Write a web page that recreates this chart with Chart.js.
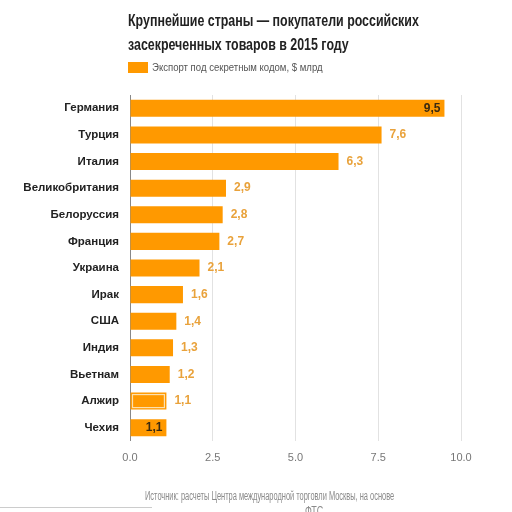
<!DOCTYPE html>
<html>
<head>
<meta charset="utf-8">
<script src="https://cdn.jsdelivr.net/npm/chart.js@4"></script>
<style>
  body { margin: 0; background: #fff; }
  #wrap { position: relative; width: 512px; height: 512px; overflow: hidden; font-family: "Liberation Sans", Arial, sans-serif; }
  #box { position: absolute; left: 0; top: 0; width: 512px; height: 512px; }
  .narrow { position: absolute; white-space: nowrap; transform-origin: 0 0; }
  .title { left: 128px; top: 9px; font-size: 17px; font-weight: bold; color: #222; line-height: 24px; transform: scaleX(0.73); }
  .swatch { position: absolute; left: 128px; top: 62px; width: 20px; height: 11px; background: #ff9900; }
  .legend { left: 152px; top: 60px; font-size: 11px; color: #555; line-height: 14px; transform: scaleX(0.87); }
  .source { left: 145px; top: 489px; font-size: 12px; color: #8a8a8a; line-height: 15px; transform: scaleX(0.62); }
  .source2 { left: 305px; top: 504px; font-size: 12px; color: #8a8a8a; line-height: 15px; transform: scaleX(0.75); }
  .line { position: absolute; left: 0; top: 507px; width: 152px; border-top: 1px solid #ccc; }
</style>
</head>
<body>
<div id="wrap">
  <div id="box"><canvas id="c"></canvas></div>
  <div class="narrow title">Крупнейшие страны — покупатели российских<br>засекреченных товаров в 2015 году</div>
  <div class="swatch"></div>
  <div class="narrow legend">Экспорт под секретным кодом, $ млрд</div>
  <div class="narrow source">Источник: расчеты Центра международной торговли Москвы, на основе</div>
  <div class="narrow source2">ФТС</div>
  <div class="line"></div>
</div>
<script>
const countries = ['Германия', 'Турция', 'Италия', 'Великобритания', 'Белоруссия', 'Франция',
  'Украина', 'Ирак', 'США', 'Индия', 'Вьетнам', 'Алжир', 'Чехия'];
const exportValues = [9.5, 7.6, 6.3, 2.9, 2.8, 2.7, 2.1, 1.6, 1.4, 1.3, 1.2, 1.1, 1.1];
const xTicks = [0, 2.5, 5, 7.5, 10];

const font = '"Liberation Sans", Arial, sans-serif';
const highlighted = 11; // Алжир drawn with a pale inner outline
const insideLabels = [0, 12];

const valueLabels = {
  id: 'valueLabels',
  afterDatasetsDraw(chart) {
    const ctx = chart.ctx;
    const meta = chart.getDatasetMeta(0);
    ctx.save();
    meta.data.forEach((bar, i) => {
      if (i === highlighted) {
        const h = bar.height;
        ctx.strokeStyle = '#fbe0b0';
        ctx.lineWidth = 1.2;
        ctx.strokeRect(bar.base + 2, bar.y - h / 2 + 2, bar.x - bar.base - 4, h - 4);
      }
      const txt = exportValues[i].toFixed(1).replace('.', ',');
      ctx.font = 'bold 12px ' + font;
      ctx.textBaseline = 'middle';
      if (insideLabels.includes(i)) {
        ctx.fillStyle = '#3a2a10';
        ctx.textAlign = 'right';
        ctx.fillText(txt, bar.x - 4, bar.y);
      } else {
        ctx.fillStyle = '#e9a23b';
        ctx.textAlign = 'left';
        ctx.fillText(txt, bar.x + 8, bar.y);
      }
    });
    ctx.restore();
  }
};

new Chart(document.getElementById('c'), {
  type: 'bar',
  data: {
    labels: countries,
    datasets: [{
      label: 'Экспорт под секретным кодом, $ млрд',
      data: exportValues,
      backgroundColor: '#ff9900',
      borderWidth: 0,
      barPercentage: 0.64,
      categoryPercentage: 1
    }]
  },
  options: {
    indexAxis: 'y',
    responsive: true,
    maintainAspectRatio: false,
    animation: false,
    layout: { padding: { top: 95, right: 51, bottom: 46, left: 0 } },
    plugins: { legend: { display: false }, tooltip: { enabled: false } },
    scales: {
      x: {
        min: 0,
        max: 10,
        afterFit: (s) => { s.height = 25; },
        afterBuildTicks: (s) => { s.ticks = xTicks.map(v => ({ value: v })); },
        ticks: {
          color: '#777',
          padding: 10,
          font: { size: 11, family: font },
          callback: (v) => Number(v).toFixed(1)
        },
        grid: { color: (c) => c.tick && c.tick.value === 0 ? '#888' : '#e2e2e2', drawTicks: false },
        border: { display: false }
      },
      y: {
        afterFit: (s) => { s.width = 130; },
        ticks: {
          color: '#222',
          padding: 3,
          font: { size: 11.5, weight: 'bold', family: font }
        },
        grid: { display: false },
        border: { display: false }
      }
    }
  },
  plugins: [valueLabels]
});
</script>
</body>
</html>
